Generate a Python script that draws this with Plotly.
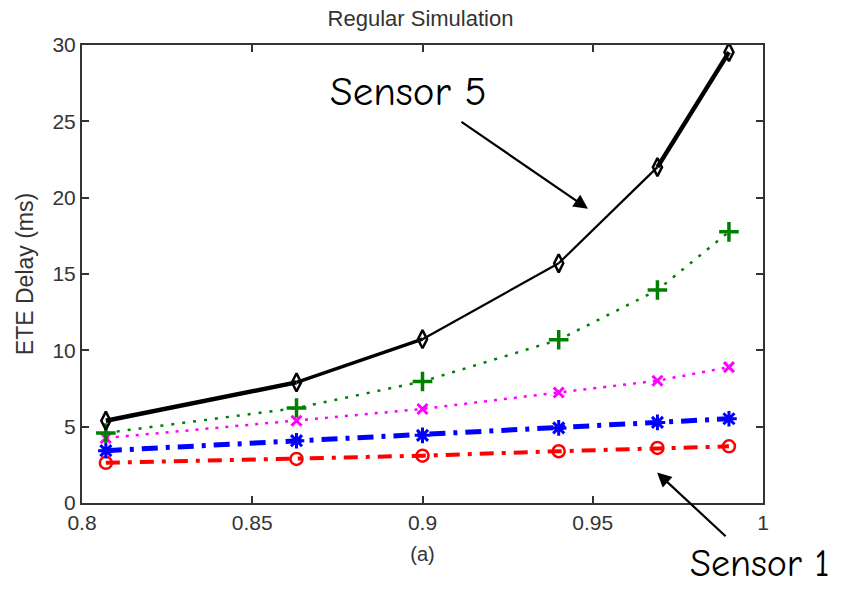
import plotly.graph_objects as go

# Offered load (utilization) on the x axis
utilization = [0.807, 0.863, 0.9, 0.94, 0.969, 0.99]

# End-to-end delay (ms) per sensor
sensor1 = [2.63, 2.89, 3.10, 3.39, 3.61, 3.71]
sensor2 = [3.43, 4.08, 4.43, 4.92, 5.28, 5.52]
sensor3 = [4.26, 5.39, 6.16, 7.24, 8.01, 8.90]
sensor4 = [4.59, 6.22, 7.96, 10.69, 13.95, 17.76]
sensor5 = [5.39, 7.90, 10.73, 15.70, 22.0, 29.53]

x_ticks = [0.8, 0.85, 0.9, 0.95, 1.0]
x_tick_labels = ["0.8", "0.85", "0.9", "0.95", "1"]
y_ticks = [0, 5, 10, 15, 20, 25, 30]

AX_FONT = "Liberation Sans, Arial, sans-serif"
NOTE_FONT = "Comic Sans MS, Comic Neue, Noto Sans, sans-serif"

fig = go.Figure()

# Sensor 1: red dash-dot with open circles
fig.add_trace(go.Scatter(
    x=utilization, y=sensor1, name="Sensor 1", mode="lines+markers",
    line=dict(color="#ff0000", width=4, dash="14px,8px,4px,8px"),
    marker=dict(symbol="circle-open", size=12, color="#ff0000",
                line=dict(width=2.5, color="#ff0000")),
))

# Sensor 2: blue dash-dot with asterisks
fig.add_trace(go.Scatter(
    x=utilization, y=sensor2, name="Sensor 2", mode="lines+markers",
    line=dict(color="#0000ff", width=5, dash="16px,8px,4px,8px"),
    marker=dict(symbol="asterisk-open", size=13, color="#0000ff",
                line=dict(width=3, color="#0000ff")),
))

# Sensor 3: magenta dotted with x markers
fig.add_trace(go.Scatter(
    x=utilization, y=sensor3, name="Sensor 3", mode="lines+markers",
    line=dict(color="#ff00ff", width=2.5, dash="3px,7px"),
    marker=dict(symbol="x-thin-open", size=10, color="#ff00ff",
                line=dict(width=3, color="#ff00ff")),
))

# Sensor 4: green dotted with plus markers
fig.add_trace(go.Scatter(
    x=utilization, y=sensor4, name="Sensor 4", mode="lines+markers",
    line=dict(color="#008000", width=2.5, dash="3px,8px"),
    marker=dict(symbol="cross-thin-open", size=14, color="#008000",
                line=dict(width=3.5, color="#008000")),
))

# Sensor 5: solid black, segment widths vary along the curve
seg_widths = [4.5, 3.5, 2.2, 2.2, 4.5]
for i, w in enumerate(seg_widths):
    fig.add_trace(go.Scatter(
        x=utilization[i:i + 2], y=sensor5[i:i + 2], mode="lines",
        line=dict(color="#000000", width=w), name="Sensor 5",
        hoverinfo="skip",
    ))
fig.add_trace(go.Scatter(
    x=utilization, y=sensor5, name="Sensor 5", mode="markers",
    marker=dict(symbol="diamond-tall-open", size=13, color="#000000",
                line=dict(width=2.5, color="#000000")),
))

axis_common = dict(
    showline=True, linecolor="#333333", linewidth=2, mirror="ticks",
    ticks="inside", ticklen=7, tickwidth=1.5, tickcolor="#333333",
    showgrid=False, zeroline=False,
    tickfont=dict(family=AX_FONT, size=21, color="#333333"),
)

fig.update_xaxes(
    range=[0.8, 1.0], tickvals=x_ticks, ticktext=x_tick_labels,
    title=dict(text="(a)", font=dict(family=AX_FONT, size=20, color="#333333"),
               standoff=14),
    **axis_common,
)
fig.update_yaxes(
    range=[0, 30], tickvals=y_ticks,
    title=dict(text="ETE Delay (ms)", font=dict(family=AX_FONT, size=23, color="#333333"),
               standoff=12),
    **axis_common,
)

# Callouts pointing at the top and bottom curves
fig.add_annotation(
    x=0.9486, y=19.27, xref="x", yref="y", text="", showarrow=True,
    ax=-128, ay=-88, arrowhead=2, arrowsize=1.3, arrowwidth=2.2, arrowcolor="#000000",
)
fig.add_annotation(
    x=0.9689, y=1.99, xref="x", yref="y", text="", showarrow=True,
    ax=70, ay=65, arrowhead=2, arrowsize=1.3, arrowwidth=2.2, arrowcolor="#000000",
)
fig.add_annotation(
    x=0.480, y=0.8975, xref="paper", yref="paper", text="Sensor 5", showarrow=False,
    xanchor="center", yanchor="middle",
    font=dict(family=NOTE_FONT, size=41, color="#000000"),
)
fig.add_annotation(
    x=0.995, y=-0.134, xref="paper", yref="paper", text="Sensor 1", showarrow=False,
    xanchor="center", yanchor="middle",
    font=dict(family=NOTE_FONT, size=38, color="#000000"),
)

fig.update_layout(
    width=841, height=590,
    margin=dict(l=82, r=78, t=45, b=87),
    paper_bgcolor="#ffffff", plot_bgcolor="#ffffff",
    showlegend=False,
    title=dict(text="Regular Simulation", x=0.5, xanchor="center",
               y=1 - 18 / 590, yanchor="middle",
               font=dict(family=AX_FONT, size=22, color="#333333")),
)

fig.write_html("out.html")
